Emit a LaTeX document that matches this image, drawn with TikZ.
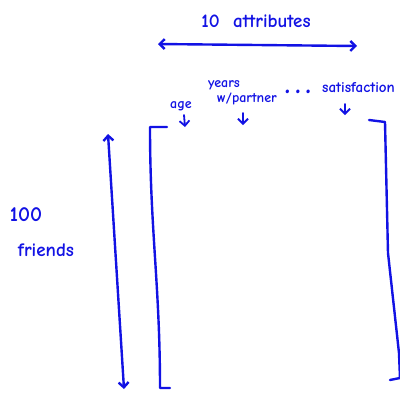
\documentclass[tikz,border=0pt]{standalone}
\usepackage{fontspec}
\setmainfont{Comic Neue}
\usetikzlibrary{arrows.meta}
\definecolor{pen}{RGB}{18,18,228}
\begin{document}
\begin{tikzpicture}[x=1pt,y=-1pt,
  ink/.style={draw=pen,line width=2.4pt,line cap=round,line join=round},
  tip/.style={-{Straight Barb[length=5pt,width=10pt]}},
  dtip/.style={{Straight Barb[length=5pt,width=10pt]}-{Straight Barb[length=5pt,width=10pt]}},
  lbl/.style={text=pen,font=\bfseries\fontsize{19}{19}\selectfont,inner sep=0pt},
  slbl/.style={text=pen,font=\bfseries\fontsize{14}{14}\selectfont,inner sep=0pt}]
\useasboundingbox (0,0) rectangle (400,392);
% top label and arrow
\node[lbl] (attr) at (256,21) {10\ \ attributes};
\coordinate (hl) at (158,44);
\coordinate (hr) at (357,46);
\draw[ink,dtip] (hl) -- (hr);
% column labels
\node[slbl] (age) at (181,106) {age};
\node[slbl] (years) at (224,85) {years};
\node[slbl] (wp) at (247,99) {w/partner};
\node[lbl,font=\bfseries\fontsize{30}{30}\selectfont] (dots) at (298,92) {.\,.\,.};
\node[slbl,anchor=west,font=\bfseries\fontsize{15}{15}\selectfont] (sat) at (322,88) {satisfaction};
\coordinate (a1) at (184,115); \coordinate (a2) at (185,127);
\coordinate (y1) at (243,113); \coordinate (y2) at (243,125);
\coordinate (s1) at (345,104); \coordinate (s2) at (345,115);
\draw[ink,tip,line width=1.8pt] (a1) -- (a2);
\draw[ink,tip,line width=1.8pt] (y1) -- (y2);
\draw[ink,tip,line width=1.8pt] (s1) -- (s2);
% left bracket
\coordinate (lb1) at (167,127);
\coordinate (lb2) at (150,127);
\coordinate (lb3) at (160,388);
\coordinate (lb4) at (170,388);
\draw[ink] (lb1) -- (lb2) to[out=-90,in=90] (lb3) -- (lb4);
% right bracket
\coordinate (rb1) at (369,120);
\coordinate (rb2) at (385,122);
\coordinate (rb3) at (388,253);
\coordinate (rb4) at (399,353);
\coordinate (rb5) at (400,378);
\coordinate (rb6) at (390,380);
\draw[ink] (rb1) -- (rb2) -- (rb3) -- (rb4) -- (rb5);
\draw[ink] (rb6) -- (rb5);
% vertical double arrow
\coordinate (vt) at (108,134);
\coordinate (vb) at (124,389);
\draw[ink,dtip] (vt) -- (vb);
% left label
\node[lbl,font=\bfseries\fontsize{21}{21}\selectfont] (hund) at (26,215) {100};
\node[lbl] (fr) at (46,250) {friends};
\end{tikzpicture}
\end{document}
